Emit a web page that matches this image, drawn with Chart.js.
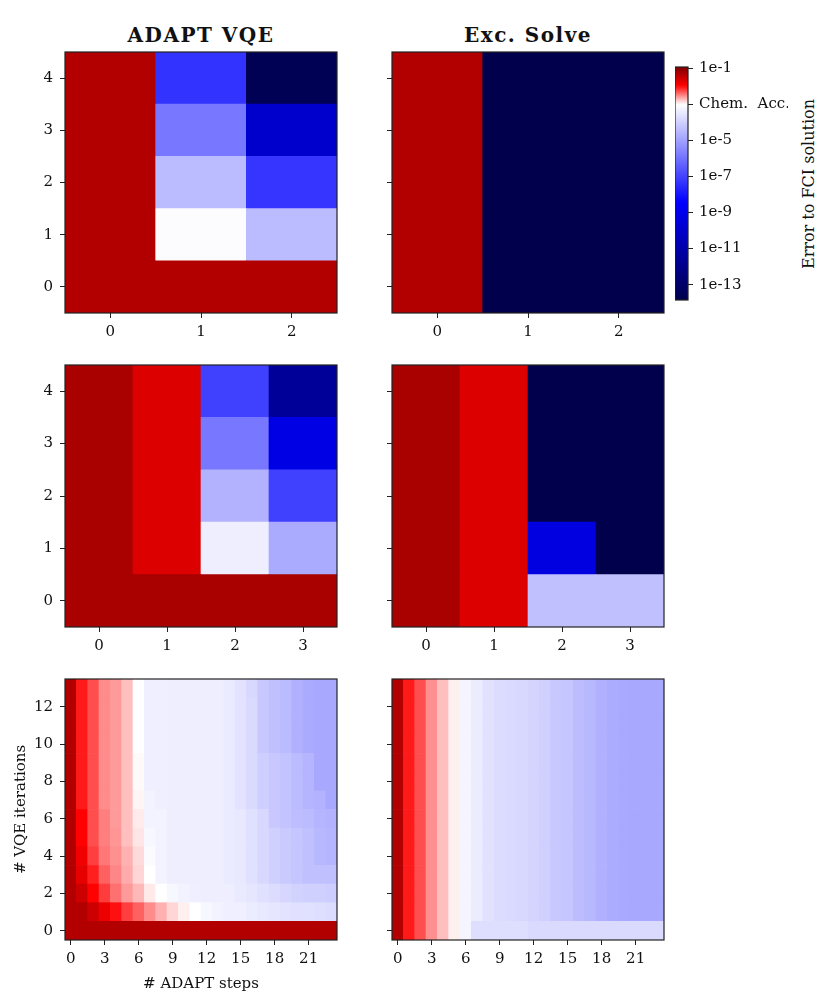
<!DOCTYPE html>
<html>
<head>
<meta charset="utf-8">
<script src="https://cdn.jsdelivr.net/npm/chart.js@4.4.0/dist/chart.umd.min.js"></script>
<style>
  body { margin: 0; background: #fff; width: 831px; height: 1004px; position: relative; overflow: hidden; font-family: "DejaVu Serif", serif; color: #111; }
  canvas { position: absolute; }
  .ttl { position: absolute; top: 35px; transform: translate(-50%, -50%); font-weight: bold; font-size: 20px; letter-spacing: 1.5px; white-space: nowrap; }
  .cbar-label { position: absolute; left: 808px; top: 184px; transform: translate(-50%, -50%) rotate(-90deg); font-size: 16px; white-space: nowrap; }
</style>
</head>
<body>
<div class="ttl" style="left:201px">ADAPT VQE</div>
<div class="ttl" style="left:528px">Exc. Solve</div>
<div class="cbar-label">Error to FCI solution</div>

<canvas id="adaptTop"></canvas>
<canvas id="excTop"></canvas>
<canvas id="adaptMid"></canvas>
<canvas id="excMid"></canvas>
<canvas id="adaptBottom"></canvas>
<canvas id="excBottom"></canvas>
<canvas id="cbar"></canvas>

<script>
// Colour scale: log10(error), white at chemical accuracy
const cbarMin = -13.85;
const cbarMax = -0.93;
const chemAcc = -3;
const cbarTicks = [-1, -3, -5, -7, -9, -11, -13];
const cbarTickLabels = ['1e-1', 'Chem.  Acc.', '1e-5', '1e-7', '1e-9', '1e-11', '1e-13'];

// Tick values
const smallRowTicks = [0, 1, 2, 3, 4];
const topColTicks = [0, 1, 2];
const midColTicks = [0, 1, 2, 3];
const bigColTicks = [0, 3, 6, 9, 12, 15, 18, 21];
const bigRowTicks = [0, 2, 4, 6, 8, 10, 12];

// log10 error, rows listed from VQE iteration 0 upwards
const adaptTop = [
    [-1.34, -1.34, -1.34],
    [-1.34, -3.06, -4.45],
    [-1.34, -4.45, -7.3],
    [-1.34, -5.9, -9.97],
    [-1.34, -7.34, -13.6]
];
const excTop = [
    [-1.34, -13.85, -13.85],
    [-1.34, -13.85, -13.85],
    [-1.34, -13.85, -13.85],
    [-1.34, -13.85, -13.85],
    [-1.34, -13.85, -13.85]
];
const adaptMid = [
    [-1.27, -1.27, -1.27, -1.27],
    [-1.27, -1.69, -3.37, -4.8],
    [-1.27, -1.69, -4.63, -7.07],
    [-1.27, -1.69, -5.9, -9.2],
    [-1.27, -1.69, -7.07, -11.53]
];
const excMid = [
    [-1.27, -1.69, -4.34, -4.34],
    [-1.27, -1.69, -9.38, -13.85],
    [-1.27, -1.69, -13.85, -13.85],
    [-1.27, -1.69, -13.85, -13.85],
    [-1.27, -1.69, -13.85, -13.85]
];
const adaptBottom = [
    [-1.34, -1.34, -1.34, -1.34, -1.34, -1.34, -1.34, -1.34, -1.34, -1.34, -1.34, -1.34, -1.34, -1.34, -1.34, -1.34, -1.34, -1.34, -1.34, -1.34, -1.34, -1.34, -1.34, -1.34],
    [-1.34, -1.34, -1.55, -1.82, -2.03, -2.22, -2.36, -2.53, -2.68, -2.83, -2.94, -3.0, -3.16, -3.25, -3.33, -3.35, -3.41, -3.49, -3.54, -3.6, -3.66, -3.66, -3.71, -3.74],
    [-1.34, -1.55, -1.97, -2.21, -2.42, -2.59, -2.71, -2.91, -3.0, -3.16, -3.25, -3.33, -3.37, -3.37, -3.37, -3.45, -3.54, -3.66, -3.74, -3.87, -3.96, -4.0, -4.0, -4.06],
    [-1.34, -1.76, -2.09, -2.36, -2.51, -2.66, -2.83, -3.0, -3.25, -3.37, -3.37, -3.37, -3.37, -3.37, -3.43, -3.49, -3.66, -3.83, -4.0, -4.13, -4.23, -4.34, -4.34, -4.34],
    [-1.34, -1.84, -2.22, -2.45, -2.55, -2.68, -2.85, -3.11, -3.25, -3.37, -3.37, -3.37, -3.37, -3.37, -3.43, -3.49, -3.66, -3.83, -4.0, -4.13, -4.23, -4.34, -4.5, -4.57],
    [-1.34, -1.97, -2.28, -2.48, -2.57, -2.74, -2.9, -3.16, -3.25, -3.37, -3.37, -3.37, -3.37, -3.37, -3.43, -3.49, -3.66, -3.83, -4.0, -4.13, -4.23, -4.34, -4.5, -4.57],
    [-1.34, -1.97, -2.28, -2.48, -2.59, -2.74, -2.92, -3.25, -3.25, -3.37, -3.37, -3.37, -3.37, -3.37, -3.43, -3.49, -3.66, -3.83, -4.17, -4.28, -4.4, -4.45, -4.57, -4.63],
    [-1.34, -2.07, -2.28, -2.53, -2.59, -2.74, -2.96, -3.25, -3.33, -3.37, -3.37, -3.37, -3.37, -3.37, -3.43, -3.6, -3.78, -4.02, -4.17, -4.28, -4.45, -4.57, -4.63, -4.85],
    [-1.34, -2.07, -2.28, -2.53, -2.59, -2.74, -2.98, -3.33, -3.33, -3.37, -3.37, -3.37, -3.37, -3.37, -3.43, -3.6, -3.78, -4.02, -4.17, -4.28, -4.45, -4.57, -4.85, -4.85],
    [-1.34, -2.07, -2.28, -2.53, -2.59, -2.74, -2.98, -3.33, -3.33, -3.37, -3.37, -3.37, -3.37, -3.37, -3.43, -3.6, -3.78, -4.02, -4.17, -4.28, -4.45, -4.57, -4.85, -4.85],
    [-1.34, -2.07, -2.28, -2.53, -2.59, -2.74, -3.0, -3.33, -3.33, -3.37, -3.37, -3.37, -3.37, -3.37, -3.43, -3.6, -3.78, -4.17, -4.34, -4.45, -4.68, -4.8, -4.85, -4.85],
    [-1.34, -2.07, -2.28, -2.53, -2.59, -2.74, -3.0, -3.33, -3.33, -3.37, -3.37, -3.37, -3.37, -3.37, -3.43, -3.6, -3.78, -4.17, -4.34, -4.45, -4.68, -4.8, -4.85, -4.85],
    [-1.34, -2.07, -2.28, -2.53, -2.59, -2.74, -3.0, -3.33, -3.33, -3.37, -3.37, -3.37, -3.37, -3.37, -3.43, -3.6, -3.78, -4.17, -4.34, -4.45, -4.68, -4.8, -4.85, -4.85],
    [-1.34, -2.07, -2.28, -2.53, -2.59, -2.74, -3.0, -3.33, -3.33, -3.37, -3.37, -3.37, -3.37, -3.37, -3.43, -3.6, -3.83, -4.17, -4.34, -4.45, -4.68, -4.8, -4.85, -4.85]
];
// Exc. Solve bottom: iterations >= 1 are identical per column, iteration 0 differs
const excBottomCols = [-1.34, -2.07, -2.28, -2.55, -2.74, -2.94, -3.22, -3.41, -3.62, -3.74, -3.78, -3.83, -3.92, -4.0, -4.17, -4.23, -4.43, -4.51, -4.68, -4.76, -4.83, -4.85, -4.85, -4.85];
const excBottomRow0 = [-1.34, -2.07, -2.28, -2.55, -2.74, -2.94, -3.22, -3.71, -3.71, -3.71, -3.71, -3.71, -3.78, -3.78, -3.78, -3.78, -3.78, -3.78, -3.78, -3.78, -3.78, -3.78, -3.78, -3.78];
const excBottom = [excBottomRow0];
for (let r = 1; r < 14; r++) excBottom.push(excBottomCols);

// matplotlib "seismic"
const seismic = [[0, 0, 0.3], [0, 0, 1], [1, 1, 1], [1, 0, 0], [0.5, 0, 0]];

function colorFor(v) {
    let t = v >= chemAcc
        ? 0.5 + 0.5 * (v - chemAcc) / (cbarMax - chemAcc)
        : 0.5 * (v - cbarMin) / (chemAcc - cbarMin);
    t = Math.min(1, Math.max(0, t));
    const p = t * 4;
    const i = Math.min(3, Math.floor(p));
    const f = p - i;
    const a = seismic[i], b = seismic[i + 1];
    return 'rgb(' + [0, 1, 2].map(k => Math.round(255 * (a[k] + (b[k] - a[k]) * f))).join(',') + ')';
}

Chart.defaults.font.family = '"DejaVu Serif", serif';
Chart.defaults.font.size = 15;
Chart.defaults.color = '#111';

// box around the plot area
const framePlugin = {
    id: 'frame',
    afterDatasetsDraw(chart) {
        const { ctx, chartArea: a } = chart;
        ctx.save();
        ctx.strokeStyle = '#222';
        ctx.lineWidth = 1.2;
        ctx.strokeRect(a.left, a.top, a.right - a.left, a.bottom - a.top);
        ctx.restore();
    }
};

const tickGrid = { offset: false, drawOnChartArea: false, drawTicks: true, tickLength: 5, color: '#222', lineWidth: 1 };

// fixed axis box sizes, no extra room for edge labels
function fixWidth(w) {
    return s => { s.width = w; s.paddingTop = 0; s.paddingBottom = 0; };
}
function fixHeight(h) {
    return s => { s.height = h; s.paddingLeft = 0; s.paddingRight = 0; };
}

function heatPanel(id, box, grid, colTicks, rowTicks, opts) {
    const padT = 6, padR = 6;
    const yW = opts.yW || 50;
    const xH = opts.xH || 35;
    const canvas = document.getElementById(id);
    canvas.width = yW + box.w + padR;
    canvas.height = padT + box.h + xH;
    canvas.style.left = (box.left - yW) + 'px';
    canvas.style.top = (box.top - padT) + 'px';

    const nCols = grid[0].length;
    const datasets = grid.map((row, r) => ({
        data: row.map((v, c) => ({ x: c, y: [r - 0.5, r + 0.5] })),
        backgroundColor: row.map(v => colorFor(v)),
        borderWidth: 0,
        grouped: false,
        barPercentage: 1,
        categoryPercentage: 1
    }));

    return new Chart(canvas, {
        type: 'bar',
        data: { datasets },
        options: {
            responsive: false,
            animation: false,
            layout: { padding: { top: padT, right: padR, left: 0, bottom: 0 } },
            plugins: { legend: { display: false }, tooltip: { enabled: false } },
            scales: {
                x: {
                    type: 'linear',
                    offset: false,
                    min: -0.5,
                    max: nCols - 0.5,
                    afterBuildTicks: s => { s.ticks = colTicks.map(v => ({ value: v })); },
                    afterFit: fixHeight(xH),
                    ticks: { autoSkip: false, maxRotation: 0, padding: 5, callback: v => String(v) },
                    grid: tickGrid,
                    border: { display: false },
                    title: opts.xTitle ? { display: true, text: opts.xTitle, padding: { top: 0, bottom: 3 } } : { display: false }
                },
                y: {
                    type: 'linear',
                    min: -0.5,
                    max: grid.length - 0.5,
                    afterBuildTicks: s => { s.ticks = rowTicks.map(v => ({ value: v })); },
                    afterFit: fixWidth(yW),
                    ticks: { autoSkip: false, padding: 7, callback: v => opts.hideY ? '' : String(v) },
                    grid: tickGrid,
                    border: { display: false },
                    title: opts.yTitle ? { display: true, text: opts.yTitle, padding: { top: 12, bottom: 0 } } : { display: false }
                }
            }
        },
        plugins: [framePlugin]
    });
}

heatPanel('adaptTop', { left: 65, top: 52, w: 272, h: 261 }, adaptTop, topColTicks, smallRowTicks, {});
heatPanel('excTop', { left: 392, top: 52, w: 272, h: 261 }, excTop, topColTicks, smallRowTicks, { hideY: true });
heatPanel('adaptMid', { left: 65, top: 365, w: 272, h: 262 }, adaptMid, midColTicks, smallRowTicks, {});
heatPanel('excMid', { left: 392, top: 365, w: 272, h: 262 }, excMid, midColTicks, smallRowTicks, { hideY: true });
heatPanel('adaptBottom', { left: 65, top: 679, w: 272, h: 261 }, adaptBottom, bigColTicks, bigRowTicks,
    { yW: 65, xH: 56, xTitle: '# ADAPT steps', yTitle: '# VQE iterations' });
heatPanel('excBottom', { left: 392, top: 679, w: 272, h: 261 }, excBottom, bigColTicks, bigRowTicks, { hideY: true });

// Colour bar
const cbarCanvas = document.getElementById('cbar');
cbarCanvas.width = 13 + 100;
cbarCanvas.height = 253;
cbarCanvas.style.left = '675px';
cbarCanvas.style.top = '57px';

new Chart(cbarCanvas, {
    type: 'bar',
    data: {
        labels: ['error'],
        datasets: [{
            data: [[cbarMin, cbarMax]],
            barPercentage: 1,
            categoryPercentage: 1,
            borderWidth: 0,
            backgroundColor: c => {
                const ch = c.chart;
                if (!ch.chartArea) return null;
                const ys = ch.scales.y;
                const g = ch.ctx.createLinearGradient(0, ys.getPixelForValue(cbarMin), 0, ys.getPixelForValue(cbarMax));
                const n = 80;
                for (let i = 0; i <= n; i++) {
                    g.addColorStop(i / n, colorFor(cbarMin + (cbarMax - cbarMin) * i / n));
                }
                return g;
            }
        }]
    },
    options: {
        responsive: false,
        animation: false,
        layout: { padding: { top: 10, bottom: 10, left: 0, right: 0 } },
        plugins: { legend: { display: false }, tooltip: { enabled: false } },
        scales: {
            x: { display: false },
            y: {
                type: 'linear',
                position: 'right',
                min: cbarMin,
                max: cbarMax,
                afterBuildTicks: s => { s.ticks = cbarTicks.map(v => ({ value: v })); },
                afterFit: fixWidth(100),
                ticks: { autoSkip: false, padding: 6, callback: (v, i) => cbarTickLabels[i] },
                grid: tickGrid,
                border: { display: false }
            }
        }
    },
    plugins: [framePlugin]
});
</script>
</body>
</html>
